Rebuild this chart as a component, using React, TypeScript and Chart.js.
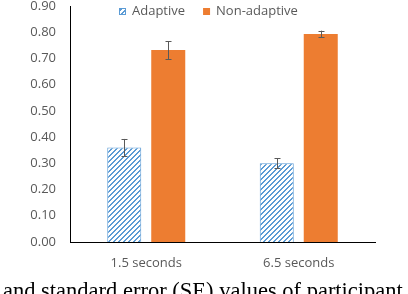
import React, { useEffect, useRef } from "react";
import { Chart, registerables } from "chart.js";

Chart.register(...registerables);

const categories = ["1.5 seconds", "6.5 seconds"];
const seriesNames = ["Adaptive", "Non-adaptive"];
const adaptiveMeans = [0.36, 0.3];
const adaptiveSE = [0.033, 0.019];
const nonAdaptiveMeans = [0.732, 0.793];
const nonAdaptiveSE = [0.034, 0.013];
const yTicksMax = 0.9;
const yStep = 0.1;
const caption = "and standard error (SE) values of participant";

const BLUE = "#5B9BD5";
const ORANGE = "#ED7D31";
const TEXT = "#595959";
const FONT = "'Open Sans', sans-serif";

function makeHatch(): CanvasPattern | string {
  const n = 5;
  const c = document.createElement("canvas");
  c.width = n;
  c.height = n;
  const ctx = c.getContext("2d");
  if (!ctx) return BLUE;
  ctx.fillStyle = "#ffffff";
  ctx.fillRect(0, 0, n, n);
  ctx.fillStyle = BLUE;
  for (let x = 0; x < n; x++) {
    ctx.fillRect(x, (n - 1 - x + n) % n, 1, 1);
    ctx.fillRect(x, (n - x) % n, 1, 1);
  }
  const p = ctx.createPattern(c, "repeat");
  return p || BLUE;
}

const errorBarPlugin = {
  id: "errorBars",
  afterDatasetsDraw(chart: any) {
    const ctx = chart.ctx;
    const yScale = chart.scales.y;
    chart.data.datasets.forEach((ds: any, di: number) => {
      const meta = chart.getDatasetMeta(di);
      const se: number[] = ds.se || [];
      meta.data.forEach((bar: any, i: number) => {
        const v = ds.data[i];
        const e = se[i];
        if (e == null) return;
        const x = Math.round(bar.x) + 0.5;
        const yt = yScale.getPixelForValue(v + e);
        const yb = yScale.getPixelForValue(v - e);
        ctx.save();
        ctx.strokeStyle = TEXT;
        ctx.lineWidth = 1;
        ctx.beginPath();
        ctx.moveTo(x, yt);
        ctx.lineTo(x, yb);
        ctx.moveTo(x - 3, Math.round(yt) + 0.5);
        ctx.lineTo(x + 3, Math.round(yt) + 0.5);
        ctx.moveTo(x - 3, Math.round(yb) + 0.5);
        ctx.lineTo(x + 3, Math.round(yb) + 0.5);
        ctx.stroke();
        ctx.restore();
      });
    });
  },
};

const legendPlugin = {
  id: "customLegend",
  afterDraw(chart: any) {
    const ctx = chart.ctx;
    ctx.save();
    ctx.font = `13px ${FONT}`;
    ctx.textBaseline = "middle";
    const box = 7;
    const gap = 6;
    const spacing = 18;
    const items = chart.data.datasets.map((ds: any) => ({
      label: ds.label,
      fill: ds.backgroundColor,
      border: ds.legendBorder,
      w: ctx.measureText(ds.label).width,
    }));
    let total = 0;
    items.forEach((it: any, i: number) => {
      total += box + gap + it.w + (i < items.length - 1 ? spacing : 0);
    });
    let x = Math.round(208.5 - total / 2);
    const cy = 11;
    items.forEach((it: any) => {
      ctx.fillStyle = it.fill;
      ctx.fillRect(x, cy - 3, box, box);
      if (it.border) {
        ctx.strokeStyle = it.border;
        ctx.lineWidth = 1;
        ctx.strokeRect(x + 0.5, cy - 2.5, box - 1, box - 1);
      }
      x += box + gap;
      ctx.fillStyle = TEXT;
      ctx.textAlign = "left";
      ctx.fillText(it.label, x, cy);
      x += it.w + spacing;
    });
    ctx.restore();
  },
};

export default function App() {
  const ref = useRef<HTMLCanvasElement | null>(null);

  useEffect(() => {
    if (!ref.current) return;
    const hatch = makeHatch();
    const chart = new Chart(ref.current, {
      type: "bar",
      data: {
        labels: categories,
        datasets: [
          {
            label: seriesNames[0],
            data: adaptiveMeans,
            se: adaptiveSE,
            backgroundColor: hatch,
            borderColor: BLUE,
            borderWidth: 1,
            legendBorder: BLUE,
            barPercentage: 0.773,
            categoryPercentage: 0.577,
          } as any,
          {
            label: seriesNames[1],
            data: nonAdaptiveMeans,
            se: nonAdaptiveSE,
            backgroundColor: ORANGE,
            borderWidth: 0,
            barPercentage: 0.773,
            categoryPercentage: 0.577,
          } as any,
        ],
      },
      options: {
        responsive: false,
        animation: false,
        devicePixelRatio: 1,
        layout: { padding: { left: 0, right: 33, top: 6, bottom: 0 } },
        plugins: {
          legend: { display: false },
          tooltip: { enabled: false },
        },
        scales: {
          x: {
            grid: { display: false, drawTicks: false },
            border: { display: true, color: "#000000", width: 1 },
            ticks: {
              color: TEXT,
              font: { family: FONT, size: 13 },
              padding: 13,
              maxRotation: 0,
            },
            afterFit: (axis: any) => {
              axis.height = 52;
              axis.paddingLeft = 0;
              axis.paddingRight = 0;
            },
          },
          y: {
            min: 0,
            max: yTicksMax,
            grid: { display: false, drawTicks: false },
            border: { display: true, color: "#000000", width: 1 },
            ticks: {
              stepSize: yStep,
              color: TEXT,
              font: { family: FONT, size: 13 },
              padding: 14,
              callback: (v: any) => Number(v).toFixed(2),
            },
            afterFit: (axis: any) => {
              axis.width = 70;
              axis.paddingTop = 0;
              axis.paddingBottom = 0;
            },
          },
        },
      },
      plugins: [errorBarPlugin, legendPlugin],
    });
    return () => chart.destroy();
  }, []);

  return (
    <div
      style={{
        position: "fixed",
        left: 0,
        top: 0,
        width: 408,
        height: 294,
        overflow: "hidden",
        background: "#ffffff",
      }}
    >
      <canvas
        ref={ref}
        width={408}
        height={294}
        style={{ display: "block", width: 408, height: 294 }}
      />
      <div
        style={{
          position: "absolute",
          left: 3,
          top: 280,
          fontFamily: "'Liberation Serif', 'Times New Roman', serif",
          fontSize: 22.5,
          lineHeight: 1,
          whiteSpace: "nowrap",
          color: "#000000",
        }}
      >
        {caption}
      </div>
    </div>
  );
}
